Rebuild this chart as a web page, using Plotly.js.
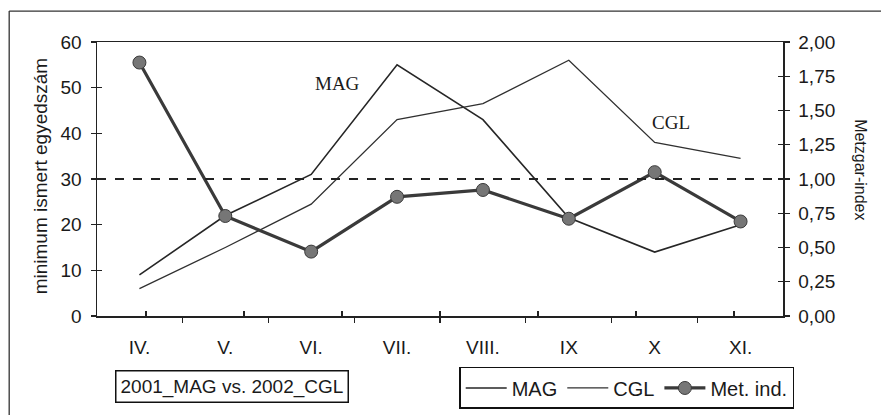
<!DOCTYPE html>
<html>
<head>
<meta charset="utf-8">
<script src="https://cdn.plot.ly/plotly-3.0.1.min.js"></script>
<style>
  html, body { margin: 0; padding: 0; background: #ffffff; }
  #chart { width: 881px; height: 415px; }
</style>
</head>
<body>
<div id="chart"></div>
<script>
// ---- data ----
const months = ['IV.', 'V.', 'VI.', 'VII.', 'VIII.', 'IX', 'X', 'XI.'];
const magValues = [9, 22, 31, 55, 43, 21.5, 14, 20];
const cglValues = [6, 15, 24.5, 43, 46.5, 56, 38, 34.5];
const metzgarIndex = [1.85, 0.73, 0.47, 0.87, 0.92, 0.71, 1.05, 0.69];
const leftTickValues = [0, 10, 20, 30, 40, 50, 60];
const rightTickValues = [0, 0.25, 0.5, 0.75, 1, 1.25, 1.5, 1.75, 2];
const referenceLevel = 30;   // dashed line (= Metzgar-index 1,00)

const FONT = 'Liberation Sans, Arial, sans-serif';
const SERIF = 'Liberation Serif, Times New Roman, serif';
const INK = '#1a1a1a';

const traces = [
  { x: months, y: magValues, name: 'MAG', type: 'scatter', mode: 'lines',
    line: { color: '#262626', width: 1.6 }, yaxis: 'y' },
  { x: months, y: cglValues, name: 'CGL', type: 'scatter', mode: 'lines',
    line: { color: '#303030', width: 1.3 }, yaxis: 'y' },
  { x: months, y: metzgarIndex, name: 'Met. ind.', type: 'scatter', mode: 'lines+markers',
    line: { color: '#3a3a3a', width: 3.2 },
    marker: { size: 13, color: '#767676', line: { color: '#3a3a3a', width: 1 } },
    yaxis: 'y2' },
  // invisible helper traces so the crossing tick axes are drawn
  { x: months, y: magValues, xaxis: 'x2', yaxis: 'y3', mode: 'none', showlegend: false, hoverinfo: 'skip' },
  { x: months, y: metzgarIndex, xaxis: 'x', yaxis: 'y4', mode: 'none', showlegend: false, hoverinfo: 'skip' }
];

const layout = {
  width: 881, height: 415,
  margin: { l: 97, r: 98, t: 42, b: 99, autoexpand: false },
  paper_bgcolor: '#ffffff', plot_bgcolor: '#ffffff',
  separators: ',.',
  font: { family: FONT, color: INK, size: 18 },
  showlegend: true,
  legend: {
    orientation: 'h', x: 0.528, xanchor: 'left', y: -0.186, yanchor: 'top',
    bordercolor: '#111', borderwidth: 1.5, bgcolor: '#fff',
    font: { family: FONT, size: 20, color: INK },
    itemwidth: 41, tracegroupgap: 0
  },
  xaxis: {
    type: 'category', showgrid: false, zeroline: false, automargin: false,
    showline: true, linecolor: '#222', linewidth: 1.5, mirror: true,
    ticks: 'outside', tickson: 'boundaries', ticklen: 5, tickwidth: 1.2, tickcolor: '#222',
    ticklabelstandoff: 14,
    tickfont: { family: FONT, size: 19, color: INK }
  },
  xaxis2: {
    type: 'category', overlaying: 'x', anchor: 'y', side: 'bottom', automargin: false,
    showgrid: false, zeroline: false, showline: false, showticklabels: false,
    ticks: 'inside', tickson: 'boundaries', ticklen: 5, tickwidth: 1.2, tickcolor: '#222'
  },
  yaxis: {
    range: [0, 60], tickvals: leftTickValues, showgrid: false, zeroline: false, automargin: false,
    showline: true, linecolor: '#222', linewidth: 1.5,
    ticks: 'outside', ticklen: 5, tickwidth: 1.2, tickcolor: '#222',
    ticklabelstandoff: 5,
    tickfont: { family: FONT, size: 19, color: INK }
  },
  yaxis2: {
    range: [0, 2], tickvals: rightTickValues, tickformat: '.2f', automargin: false,
    overlaying: 'y', side: 'right', anchor: 'x',
    showgrid: false, zeroline: false,
    showline: true, linecolor: '#222', linewidth: 1.5,
    ticks: 'outside', ticklen: 5, tickwidth: 1.2, tickcolor: '#222',
    ticklabelstandoff: 5,
    tickfont: { family: FONT, size: 19, color: INK }
  },
  yaxis3: {
    range: [0, 60], tickvals: leftTickValues, overlaying: 'y', side: 'left', anchor: 'x2', automargin: false,
    showgrid: false, zeroline: false, showline: false, showticklabels: false,
    ticks: 'inside', ticklen: 5, tickwidth: 1.2, tickcolor: '#222'
  },
  yaxis4: {
    range: [0, 2], tickvals: rightTickValues, overlaying: 'y', side: 'right', anchor: 'x', automargin: false,
    showgrid: false, zeroline: false, showline: false, showticklabels: false,
    ticks: 'inside', ticklen: 5, tickwidth: 1.2, tickcolor: '#222'
  },
  shapes: [
    { type: 'line', xref: 'paper', yref: 'y', x0: 0, x1: 1, y0: referenceLevel, y1: referenceLevel,
      line: { color: '#222', width: 2, dash: 'dash' } },
    // outer frame of the scanned figure (left and top edges)
    { type: 'line', xref: 'paper', yref: 'paper', x0: -0.128, x1: -0.128, y0: 1.113, y1: -0.45,
      line: { color: '#333', width: 1.3 } },
    { type: 'line', xref: 'paper', yref: 'paper', x0: -0.128, x1: 1.15, y0: 1.113, y1: 1.113,
      line: { color: '#333', width: 1.3 } }
  ],
  annotations: [
    { text: 'minimum ismert egyedszám', xref: 'paper', yref: 'paper', x: -0.083, y: 0.51,
      xanchor: 'center', yanchor: 'middle',
      textangle: -90, showarrow: false, font: { family: FONT, size: 19, color: INK } },
    { text: 'Metzgar-index', xref: 'paper', yref: 'paper', x: 1.112, y: 0.533,
      xanchor: 'center', yanchor: 'middle',
      textangle: 90, showarrow: false, font: { family: FONT, size: 16, color: INK } },
    { text: 'MAG', xref: 'paper', yref: 'paper', x: 0.351, y: 0.847,
      xanchor: 'center', yanchor: 'middle',
      showarrow: false, font: { family: SERIF, size: 19, color: INK } },
    { text: 'CGL', xref: 'paper', yref: 'paper', x: 0.837, y: 0.708,
      xanchor: 'center', yanchor: 'middle',
      showarrow: false, font: { family: SERIF, size: 19, color: INK } },
    { text: '2001_MAG vs. 2002_CGL', xref: 'paper', yref: 'paper', x: 0.197, y: -0.259,
      xanchor: 'center', yanchor: 'middle', showarrow: false,
      bordercolor: '#111', borderwidth: 1.5, borderpad: 4, bgcolor: '#fff',
      font: { family: FONT, size: 19, color: INK } }
  ]
};

Plotly.newPlot('chart', traces, layout, { displayModeBar: false, staticPlot: true });
</script>
</body>
</html>
